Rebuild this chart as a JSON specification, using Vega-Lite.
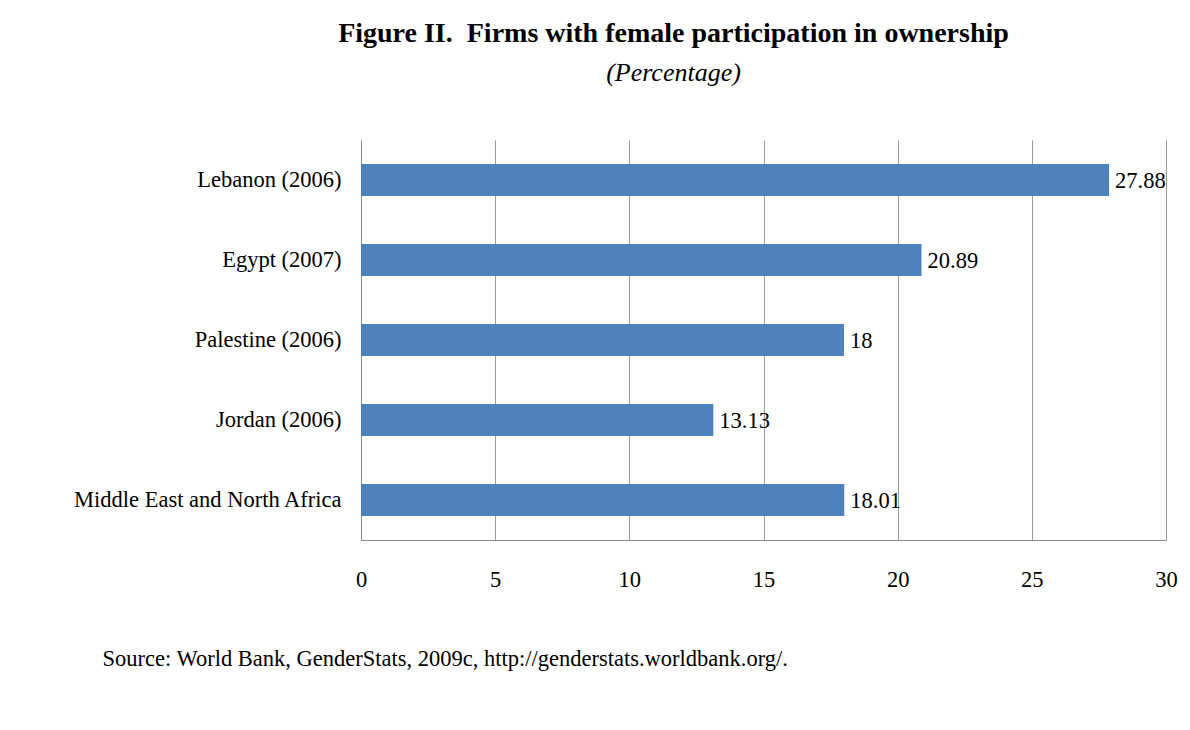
{
  "$schema": "https://vega.github.io/schema/vega-lite/v6.json",
  "autosize": "none",
  "width": 805,
  "height": 400,
  "padding": {"left": 361, "top": 140, "right": 24, "bottom": 190},
  "background": "white",
  "config": {
    "font": "Liberation Serif",
    "view": {"stroke": null}
  },
  "title": {
    "text": "Figure II.\u00a0 Firms with female participation in ownership",
    "subtitle": "(Percentage)",
    "anchor": "middle",
    "dx": -90,
    "offset": 54,
    "font": "Liberation Serif",
    "fontSize": 28,
    "fontWeight": "bold",
    "color": "#000000",
    "subtitleFont": "Liberation Serif",
    "subtitleFontSize": 26,
    "subtitleFontStyle": "italic",
    "subtitleColor": "#000000",
    "subtitlePadding": 12
  },
  "data": {
    "values": [
      {"region": "Lebanon (2006)", "share": 27.88},
      {"region": "Egypt (2007)", "share": 20.89},
      {"region": "Palestine (2006)", "share": 18},
      {"region": "Jordan (2006)", "share": 13.13},
      {"region": "Middle East and North Africa", "share": 18.01}
    ]
  },
  "encoding": {
    "y": {
      "field": "region",
      "type": "nominal",
      "sort": null,
      "scale": {"paddingInner": 0.6, "paddingOuter": 0.3},
      "axis": {
        "title": null,
        "ticks": false,
        "domainColor": "#888888",
        "labelFont": "Liberation Serif",
        "labelFontSize": 22.5,
        "labelColor": "#000000",
        "labelPadding": 20,
        "labelLimit": 400
      }
    },
    "x": {
      "field": "share",
      "type": "quantitative",
      "scale": {"domain": [0, 30], "nice": false},
      "axis": {
        "values": [0, 5, 10, 15, 20, 25, 30],
        "ticks": false,
        "grid": true,
        "gridColor": "#999999",
        "domainColor": "#888888",
        "labelFont": "Liberation Serif",
        "labelFontSize": 22.5,
        "labelColor": "#000000",
        "labelPadding": 28,
        "labelFlush": false,
        "title": "Source: World Bank, GenderStats, 2009c, http://genderstats.worldbank.org/.",
        "titleFont": "Liberation Serif",
        "titleFontSize": 22.5,
        "titleFontWeight": "normal",
        "titleColor": "#000000",
        "titleAlign": "left",
        "titleAnchor": "start",
        "titleBaseline": "alphabetic",
        "titleX": -259,
        "titleY": 125
      }
    }
  },
  "layer": [
    {
      "mark": {"type": "bar", "color": "#4F81BD"}
    },
    {
      "mark": {
        "type": "text",
        "align": "left",
        "baseline": "middle",
        "dx": 6,
        "dy": 1,
        "font": "Liberation Serif",
        "fontSize": 22.5,
        "color": "#000000"
      },
      "encoding": {
        "text": {"field": "share", "type": "quantitative"}
      }
    }
  ]
}
